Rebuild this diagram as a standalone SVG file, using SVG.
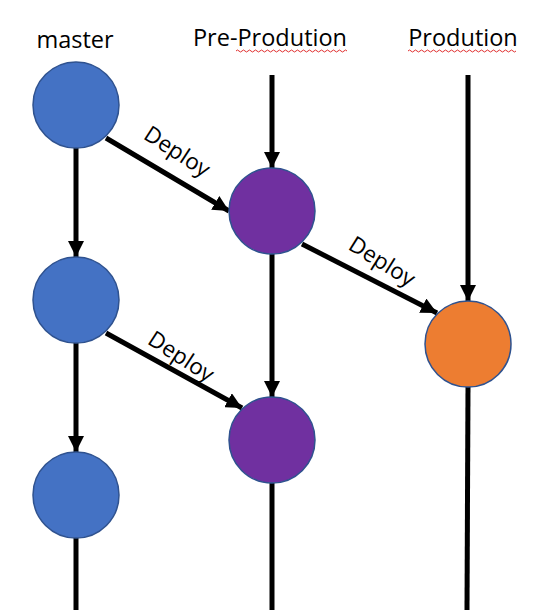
<svg xmlns="http://www.w3.org/2000/svg" width="534" height="610" viewBox="0 0 534 610">
<style>
.lbl{font-family:"Open Sans","Liberation Sans",sans-serif;font-size:23.5px;fill:#000}
.dep{font-family:"Open Sans","Liberation Sans",sans-serif;font-size:22.5px;fill:#000}
.edge{stroke:#000;stroke-width:5;fill:none}
.arr{marker-end:url(#ah)}
.blue{fill:#4472C4;stroke:#2F528F;stroke-width:1.5}
.purple{fill:#7030A0;stroke:#2F528F;stroke-width:1.5}
.orange{fill:#ED7D31;stroke:#2F528F;stroke-width:1.5}
.squig{stroke:#E03030;stroke-width:1;fill:none}
</style>
<defs>
<marker id="ah" markerUnits="userSpaceOnUse" markerWidth="16" markerHeight="16" viewBox="0 0 16 16" refX="16" refY="8" orient="auto">
<path d="M0,0 L16,8 L0,16 Z" fill="#000"/>
</marker>
</defs>
<rect width="534" height="610" fill="#fff"/>
<g id="headers">
<text class="lbl" x="75" y="48" text-anchor="middle">master</text>
<text class="lbl" x="270" y="46" text-anchor="middle">Pre-Prodution</text>
<text class="lbl" x="463" y="46" text-anchor="middle">Prodution</text>
<path class="squig" d="M236,51 q1.5,-2 3,0 t3,0 t3,0 t3,0 t3,0 t3,0 t3,0 t3,0 t3,0 t3,0 t3,0 t3,0 t3,0 t3,0 t3,0 t3,0 t3,0 t3,0 t3,0 t3,0 t3,0 t3,0 t3,0 t3,0 t3,0 t3,0 t3,0 t3,0 t3,0 t3,0 t3,0 t3,0 t3,0 t3,0 t3,0 t3,0 t3,0"/>
<path class="squig" d="M408,51 q1.5,-2 3,0 t3,0 t3,0 t3,0 t3,0 t3,0 t3,0 t3,0 t3,0 t3,0 t3,0 t3,0 t3,0 t3,0 t3,0 t3,0 t3,0 t3,0 t3,0 t3,0 t3,0 t3,0 t3,0 t3,0 t3,0 t3,0 t3,0 t3,0 t3,0 t3,0 t3,0 t3,0 t3,0 t3,0 t3,0 t3,0"/>
</g>
<g id="connectors">
<line class="edge arr" x1="76" y1="148" x2="76" y2="257"/>
<line class="edge arr" x1="76" y1="343" x2="76" y2="452"/>
<line class="edge" x1="76" y1="538" x2="76" y2="610"/>
<line class="edge arr" x1="272" y1="75" x2="272" y2="168"/>
<line class="edge arr" x1="272" y1="254" x2="272" y2="397"/>
<line class="edge" x1="272" y1="483" x2="272" y2="610"/>
<line class="edge arr" x1="468" y1="75" x2="468" y2="301"/>
<line class="edge" x1="468" y1="387" x2="467" y2="610"/>
<line class="edge arr" x1="106" y1="138" x2="229" y2="211"/>
<line class="edge arr" x1="302" y1="244" x2="437" y2="313"/>
<line class="edge arr" x1="106" y1="333" x2="242" y2="408"/>
<text class="dep" x="0" y="0" text-anchor="middle" transform="translate(173,158) rotate(33)">Deploy</text>
<text class="dep" x="0" y="0" text-anchor="middle" transform="translate(378,268) rotate(32)">Deploy</text>
<text class="dep" x="0" y="0" text-anchor="middle" transform="translate(177,363) rotate(33)">Deploy</text>
</g>
<g id="m1"><circle class="blue" cx="76" cy="105" r="43"/></g>
<g id="m2"><circle class="blue" cx="76" cy="300" r="43"/></g>
<g id="m3"><circle class="blue" cx="76" cy="495" r="43"/></g>
<g id="pp1"><circle class="purple" cx="272" cy="211" r="43"/></g>
<g id="pp2"><circle class="purple" cx="272" cy="440" r="43"/></g>
<g id="p1"><circle class="orange" cx="468" cy="344" r="43"/></g>
</svg>
